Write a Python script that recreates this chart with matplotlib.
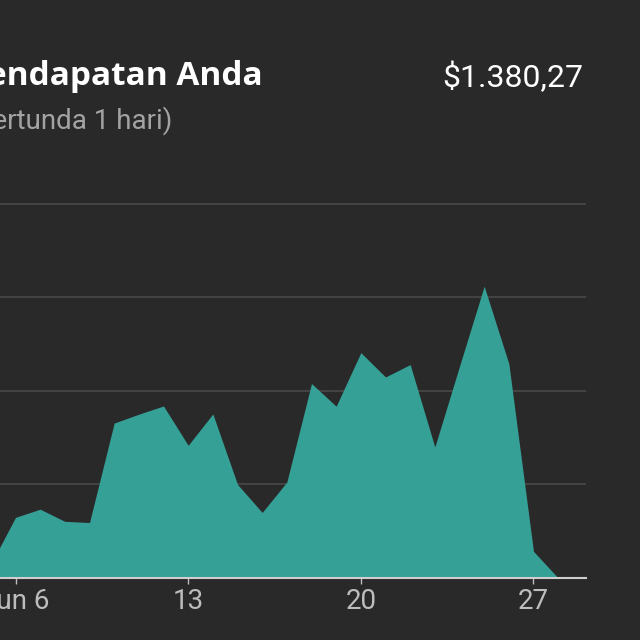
"""Pendapatan harian (Juni) - area chart, dark theme."""

import matplotlib.pyplot as plt

# day of June and earnings (USD)
days = [5, 6, 7, 8, 9, 10, 11, 12, 13, 14, 15, 16, 17, 18, 19, 20,
        21, 22, 23, 24, 25, 26, 27, 28]
earnings = [5.9, 25.9, 29.4, 24.2, 23.7, 66.2, 70.0, 73.5, 56.7, 70.1, 40.0,
            28.0, 41.0, 83.1, 73.4, 96.3, 85.9, 91.2, 56.0, 90.5, 124.7,
            91.6, 11.4, 0.0]
tick_days = [6, 13, 20, 27]
tick_labels = ["Jun 6", "13", "20", "27"]
grid_values = [40, 80, 120, 160]

title = "Pendapatan Anda"
subtitle = "(tertunda 1 hari)"
total = "$1.380,27"

BG = "#292929"
TEAL = "#35a096"

fig = plt.figure(figsize=(6.4, 6.4), dpi=100, facecolor=BG)
ax = fig.add_axes([0.0, 0.0969, 0.9156, 0.7002 - 0.0969])
ax.set_facecolor(BG)

ax.fill_between(days, earnings, 0, color=TEAL, lw=0, zorder=2)

for g in grid_values:
    ax.axhline(g, color="#464646", lw=1.3, zorder=1)

ax.set_xlim(5.3716, 29.128)
ax.set_ylim(0, 165)

for side in ("top", "right", "left"):
    ax.spines[side].set_visible(False)
ax.spines["bottom"].set_color("#cfcfcf")
ax.spines["bottom"].set_linewidth(1.5)
ax.spines["bottom"].set_zorder(3)

ax.set_yticks([])
ax.set_xticks(tick_days)
ax.set_xticklabels(tick_labels, family="Roboto", fontsize=20, color="#bdbdbd")
ax.tick_params(axis="x", length=4, width=1, color="#bdbdbd", pad=3)

# the header is cropped at the left edge in the original screenshot
fig.text(263 / 640, 1 - 85 / 640, title, ha="right", va="baseline",
         family="Open Sans", fontweight="bold", fontsize=24, color="white")
fig.text(172 / 640, 1 - 129 / 640, subtitle, ha="right", va="baseline",
         family="Roboto", fontsize=20, color="#a3a3a3")
fig.text(583 / 640, 1 - 87 / 640, total, ha="right", va="baseline",
         family="Roboto", fontsize=23, color="white")

fig.savefig("out.png", dpi=100, facecolor=BG)
